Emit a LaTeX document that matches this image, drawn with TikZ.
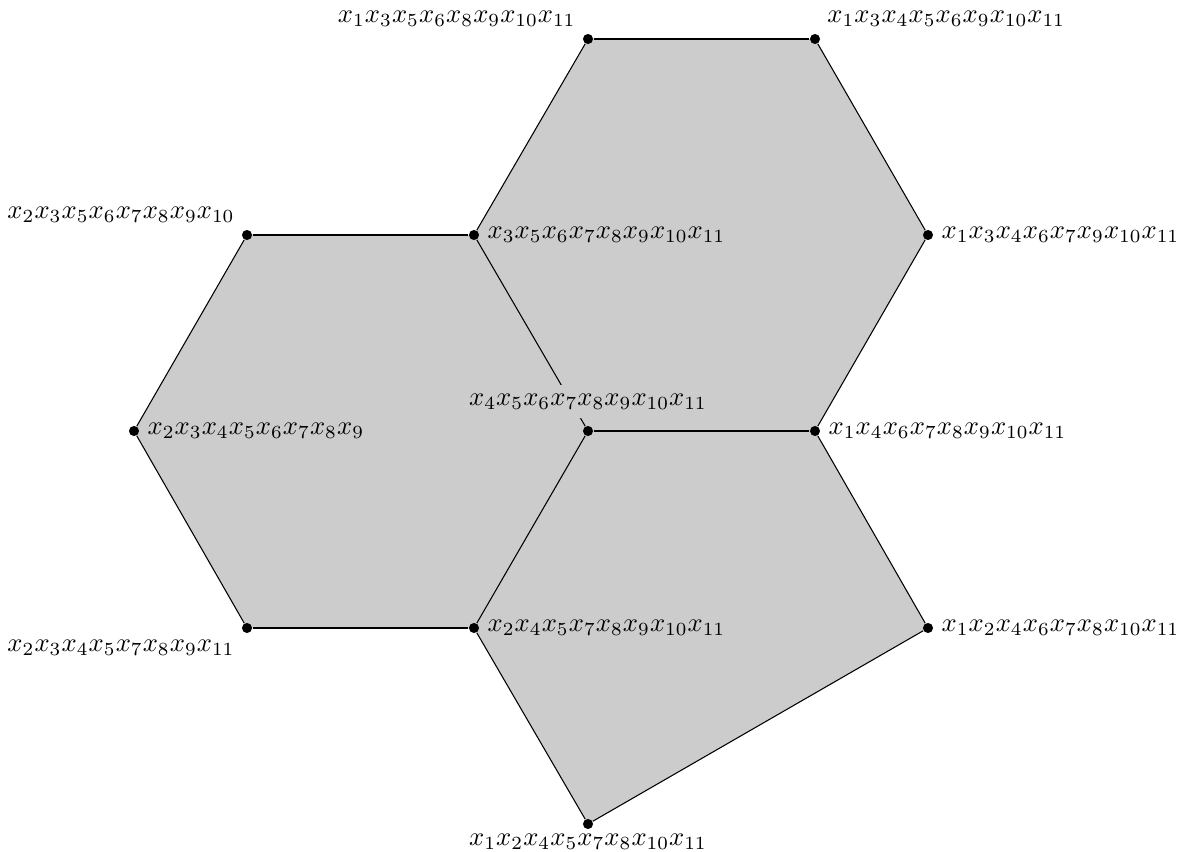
\documentclass[tikz,border=0pt]{standalone}
\usepackage{amsmath,amssymb}
\usepackage{tikz}
\usetikzlibrary{backgrounds}
\tikzset{vtx/.style={circle, fill, inner sep=0pt, minimum size=3.8pt}}

\begin{document}
\begin{tikzpicture}[x=0.01324cm, y=-0.01324cm, label distance=-0.5pt]
\useasboundingbox (0,0) rectangle (1178,852);
% vertices, labelled by their monomials
\node[vtx, label=above left:{$x_1x_3x_5x_6x_8x_9x_{10}x_{11}$}] (a) at (588,39) {};
\node[vtx, label=above right:{$x_1x_3x_4x_5x_6x_9x_{10}x_{11}$}] (b) at (815,39) {};
\node[vtx, label=right:{$x_1x_3x_4x_6x_7x_9x_{10}x_{11}$}] (c) at (928,235) {};
\node[vtx, label=right:{$x_1x_4x_6x_7x_8x_9x_{10}x_{11}$}] (d) at (815,431) {};
\node[vtx, label={[fill=gray!40, label distance=2.5pt]above:{$x_4x_5x_6x_7x_8x_9x_{10}x_{11}$}}] (e) at (588,431) {};
\node[vtx, label=right:{$x_3x_5x_6x_7x_8x_9x_{10}x_{11}$}] (f) at (474,235) {};
\node[vtx, label=above left:{$x_2x_3x_5x_6x_7x_8x_9x_{10}$}] (g) at (247,235) {};
\node[vtx, label=right:{$x_2x_3x_4x_5x_6x_7x_8x_9$}] (h) at (134,431) {};
\node[vtx, label=below left:{$x_2x_3x_4x_5x_7x_8x_9x_{11}$}] (i) at (247,628) {};
\node[vtx, label=right:{$x_2x_4x_5x_7x_8x_9x_{10}x_{11}$}] (j) at (474,628) {};
\node[vtx, label=right:{$x_1x_2x_4x_6x_7x_8x_{10}x_{11}$}] (k) at (928,628) {};
\node[vtx, label={[label distance=-2pt]below:{$x_1x_2x_4x_5x_7x_8x_{10}x_{11}$}}] (l) at (588,824) {};
\begin{scope}[on background layer]
\fill[gray!40] (a.center) -- (b.center) -- (c.center) -- (d.center) -- (e.center) -- (f.center) -- cycle;
\fill[gray!40] (g.center) -- (f.center) -- (e.center) -- (j.center) -- (i.center) -- (h.center) -- cycle;
\fill[gray!40] (e.center) -- (d.center) -- (k.center) -- (l.center) -- (j.center) -- cycle;
\foreach \u/\v in {a/b,b/c,c/d,d/e,e/f,f/a,g/f,e/j,j/i,i/h,h/g,d/k,k/l,l/j}
  \draw (\u) -- (\v);
\end{scope}
\end{tikzpicture}
\end{document}
